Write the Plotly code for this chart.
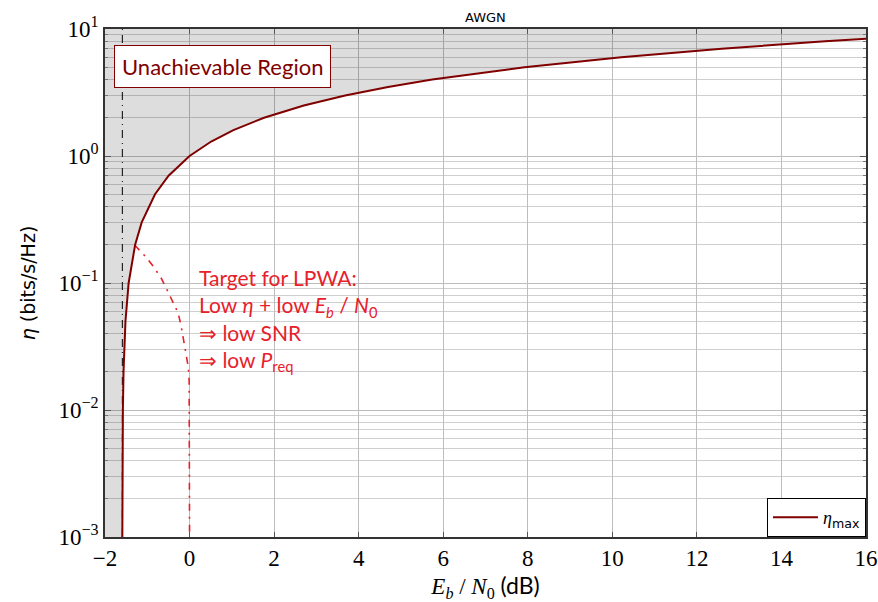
import plotly.graph_objects as go

# ---- data ----
# eta_max curve (spectral efficiency vs Eb/N0 in dB)
eta_max = [0.001, 0.003, 0.01, 0.02, 0.05, 0.1, 0.2, 0.3, 0.5, 0.7, 1.0, 1.3,
           1.6, 2.0, 2.5, 3.0, 3.5, 4.0, 5.0, 6.0, 7.0, 8.0, 8.5]
ebn0_db = [-1.59, -1.587, -1.577, -1.562, -1.516, -1.441, -1.287, -1.132, -0.817,
           -0.496, 0.0, 0.511, 1.037, 1.761, 2.702, 3.680, 4.694, 5.740, 7.924,
           10.212, 12.587, 15.034, 16.281]

# LPWA target boundary (red dash-dot)
target_x = [-1.30, -1.03, -0.85, -0.67, -0.53, -0.40, -0.27, -0.20, -0.14,
            -0.08, -0.03, -0.01, 0.0]
target_y = [0.199, 0.160, 0.134, 0.109, 0.088, 0.072, 0.058, 0.046, 0.0356,
            0.029, 0.0218, 0.0172, 0.001]

shannon_limit = -1.59
x_range = [-2, 16]
y_decades = [-3, -2, -1, 0, 1]
x_ticks = [-2, 0, 2, 4, 6, 8, 10, 12, 14, 16]

DARK_RED = "#800000"
RED = "#e8202a"

y_bottom = 10 ** y_decades[0]
y_top = 10 ** y_decades[-1]

fig = go.Figure()

# shaded unachievable region (left/above the curve)
fig.add_trace(go.Scatter(
    x=[x_range[0]] + ebn0_db + [ebn0_db[-1], x_range[0]],
    y=[eta_max[0]] + eta_max + [y_top, y_top],
    fill="toself", fillcolor="rgba(0,0,0,0.135)",
    line=dict(width=0), mode="lines", showlegend=False, hoverinfo="skip"))

# Shannon limit vertical line
fig.add_trace(go.Scatter(
    x=[shannon_limit, shannon_limit], y=[y_bottom, y_top], mode="lines",
    line=dict(color="black", width=1, dash="8px,5px,1px,5px"),
    showlegend=False))

# target boundary
fig.add_trace(go.Scatter(
    x=target_x, y=target_y, mode="lines",
    line=dict(color=RED, width=1.6, dash="7px,6px,2px,6px"),
    showlegend=False))

# eta_max curve
fig.add_trace(go.Scatter(
    x=ebn0_db, y=eta_max, mode="lines",
    line=dict(color=DARK_RED, width=2),
    name="<i>η</i><span style='font-family:DejaVu Sans'><sub>max</sub></span>"))

tick_font = dict(family="Liberation Serif", size=23, color="black")

minor_vals = [m * 10 ** d for d in y_decades[:-1] for m in range(2, 10)]

fig.update_layout(
    width=878, height=602,
    margin=dict(l=105, r=12, t=29, b=65),
    paper_bgcolor="white", plot_bgcolor="white",
    showlegend=True,
    legend=dict(x=1, y=0, xanchor="right", yanchor="bottom",
                bgcolor="white", bordercolor="black", borderwidth=1,
                font=dict(family="Liberation Serif", size=18, color="black"),
                itemwidth=45, tracegroupgap=0),
    xaxis=dict(
        range=x_range, tickvals=x_ticks, automargin=False,
        ticktext=[("−" + str(-v)) if v < 0 else str(v) for v in x_ticks],
        showgrid=True, gridcolor="#bdbdbd", gridwidth=1,
        showline=True, linecolor="#333333", linewidth=1.5, mirror="allticks",
        ticks="inside", ticklen=5, tickcolor="#555555",
        tickfont=tick_font, zeroline=False,
        title=dict(text="<i>E<sub>b</sub></i> / <i>N</i><sub>0</sub> "
                        "<span style='font-family:Lato'>(dB)</span>",
                   font=dict(family="Liberation Serif", size=23, color="black"),
                   standoff=4)),
    yaxis=dict(
        type="log", range=[y_decades[0], y_decades[-1]], automargin=False,
        tickvals=[10 ** d for d in y_decades],
        ticktext=["10<sup>" + ("−" + str(-d) if d < 0 else str(d)) + "</sup>" for d in y_decades],
        showgrid=True, gridcolor="#bdbdbd", gridwidth=1,
        minor=dict(tickvals=minor_vals, showgrid=True, gridcolor="#cfcfcf",
                   ticks="inside", ticklen=3, tickcolor="#777777"),
        showline=True, linecolor="#333333", linewidth=1.5, mirror="allticks",
        ticks="inside", ticklen=6, tickcolor="#555555",
        tickfont=tick_font, zeroline=False,
        title=dict(text="<i>η</i> (bits/s/Hz)",
                   font=dict(family="DejaVu Sans", size=19, color="black"),
                   standoff=18)),
    annotations=[
        dict(text="AWGN", xref="paper", yref="paper", x=0.5, y=1, xanchor="center",
             yanchor="bottom", showarrow=False, yshift=2,
             font=dict(family="DejaVu Sans", size=13, color="black")),
        dict(text="Unachievable Region", xref="paper", yref="paper",
             x=0.154, y=0.926, xanchor="center", yanchor="middle", showarrow=False,
             bgcolor="white", bordercolor=DARK_RED, borderwidth=1, borderpad=7,
             font=dict(family="Lato", size=22, color=DARK_RED)),
        dict(text="Target for LPWA:<br>Low <i>η</i> + low <i>E<sub>b</sub></i> / <i>N</i><sub>0</sub>"
                  "<br>⇒ low SNR<br>⇒ low <i>P</i><sub>req</sub>",
             xref="paper", yref="paper", x=0.121, y=0.54, xanchor="left", yanchor="top",
             align="left", showarrow=False,
             font=dict(family="Lato", size=21, color=RED)),
    ],
)

fig.write_html("out.html", config={"displayModeBar": False},
               post_script="document.body.style.margin='0';document.body.style.overflow='hidden';")
